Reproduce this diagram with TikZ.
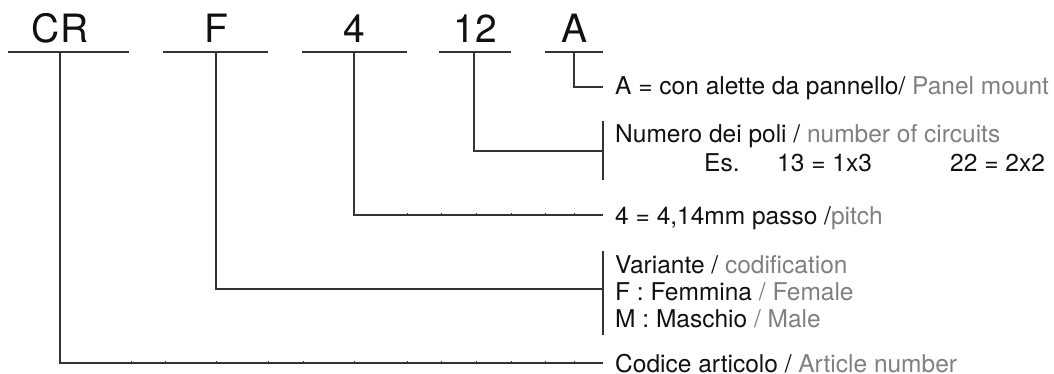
\documentclass[tikz,border=0pt]{standalone}
\usepackage{fontspec}
\setmainfont{TeX Gyre Heros}
\definecolor{ln}{HTML}{333333}
\definecolor{en}{HTML}{808080}
\definecolor{tx}{HTML}{111111}
\begin{document}
\begin{tikzpicture}[x=1pt,y=-1pt,
  code/.style={anchor=base,inner sep=0pt,text=tx,font=\fontsize{39}{40}\selectfont},
  desc/.style={anchor=base west,inner sep=0pt,text=tx,font=\fontsize{24.5}{27}\selectfont,align=left},
  rule/.style={draw=ln,line width=1.3pt},
  wire/.style={draw=ln,line width=1.2pt},
  tick/.style={draw=ln,line width=1pt}]
\useasboundingbox (0,0) rectangle (1054,374);
% code characters
\node[code] (cr) at (60,43) {CR};
\node[code] (f) at (216,43) {F};
\node[code] (four) at (354,43) {4};
\node[code] (twelve) at (475,43) {12};
\node[code] (a) at (574,43) {A};
% underlines
\draw[rule] (8,52) -- (129,52);
\draw[rule] (163,52) -- (268,52);
\draw[rule] (302,52) -- (407,52);
\draw[rule] (439,52) -- (511,52);
\draw[rule] (545,52) -- (603,52);
% stems
\coordinate (scr) at (60,52);
\coordinate (sf) at (216,52);
\coordinate (s4) at (354,52);
\coordinate (s12) at (474,52);
\coordinate (sa) at (574,52);
% description texts
\node[desc] (da) at (615,95) {A = con alette da pannello/ \textcolor{en}{Panel mount}};
\node[desc] (d12) at (615,143) {Numero dei poli / \textcolor{en}{number of circuits}};
\node[desc] (es) at (704,172) {Es.};
\node[desc] (e13) at (777,172) {13 = 1x3};
\node[desc] (e22) at (950,172) {22 = 2x2};
\node[desc] (d4) at (615,224) {4 = 4,14mm passo /\textcolor{en}{pitch}};
\node[desc] (dv1) at (615,273) {Variante / \textcolor{en}{codification}};
\node[desc] (dv2) at (615,300) {F : Femmina \textcolor{en}{/ Female}};
\node[desc] (dv3) at (615,327) {M : Maschio \textcolor{en}{/ Male}};
\node[desc] (dcr) at (615,372) {Codice articolo / \textcolor{en}{Article number}};
% brackets
\coordinate (b12t) at (603,121);
\coordinate (b12b) at (603,180);
\coordinate (bft) at (603,251);
\coordinate (bfb) at (603,335);
\draw[wire] (b12t) -- (b12b);
\draw[wire] (bft) -- (bfb);
% connectors
\draw[wire] (sa) |- (603,87);
\draw[wire] (s12) |- (603,151);
\draw[wire] (s4) |- (603,215);
\draw[wire] (sf) |- (603,289);
\draw[wire] (scr) |- (603,363);
% ticks
\foreach \x in {354,407,441,476,511,545,574}
  \draw[tick] (\x,215) -- (\x,213);
\foreach \x in {60,131,165,216,268,303,354,407,441,476,511,545,574}
  \draw[tick] (\x,363) -- (\x,361);
\end{tikzpicture}
\end{document}
